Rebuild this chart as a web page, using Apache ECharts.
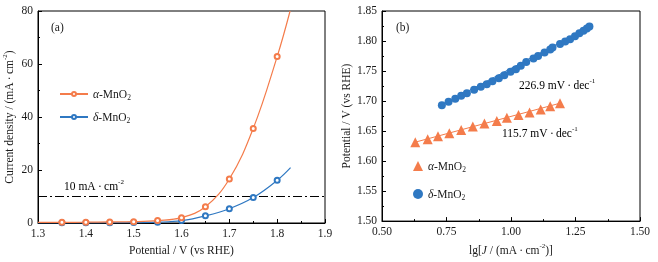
<!DOCTYPE html>
<html><head><meta charset="utf-8">
<script src="https://cdn.jsdelivr.net/npm/echarts@6/dist/echarts.min.js"></script>
<style>html,body{margin:0;padding:0;background:#fff}#c{width:658px;height:262px}</style>
</head><body><div id="c"></div>
<script>
// ---- Panel (a): polarization curves ----
const alphaV = [1.30,1.35,1.40,1.45,1.50,1.55,1.60,1.65,1.70,1.75,1.80,1.827];
const alphaJ = [0.2,0.25,0.3,0.4,0.5,0.9,2.0,6.1,16.6,35.7,62.8,80];
const deltaV = [1.30,1.35,1.40,1.45,1.50,1.55,1.60,1.65,1.70,1.75,1.80,1.828];
const deltaJ = [0.0,0.05,0.05,0.1,0.15,0.3,0.9,2.7,5.4,9.6,16.1,20.9];
const refV = [1.3,1.9];
const refJ = [10,10];
// ---- Panel (b): Tafel plots ----
const alphaLgJ = [0.629,0.677,0.717,0.761,0.807,0.852,0.897,0.945,0.984,1.029,1.072,1.115,1.152,1.190];
const alphaE   = [1.6315,1.6365,1.6414,1.6464,1.6519,1.6574,1.6624,1.6668,1.6723,1.6767,1.6811,1.6860,1.6915,1.6965];
const deltaLgJ = [0.732,0.758,0.784,0.807,0.829,0.857,0.883,0.906,0.928,0.953,0.974,0.998,1.019,1.038,1.059,1.087,1.105,1.130,1.152,1.161,1.190,1.210,1.229,1.248,1.265,1.281,1.294,1.304];
const deltaE   = [1.693,1.699,1.704,1.709,1.713,1.719,1.724,1.728,1.733,1.738,1.743,1.749,1.753,1.759,1.765,1.771,1.775,1.781,1.786,1.789,1.795,1.799,1.803,1.808,1.813,1.817,1.821,1.824];
const alphaFitX = [0.629,1.190];
const alphaFitY = [1.6315,1.6964];
const deltaFitX = [0.732,1.304];
const deltaFitY = [1.6935,1.8233];
const xTicksA = {min:1.3,max:1.9,interval:0.1};
const yTicksA = {min:0,max:80,interval:20};
const xTicksB = {min:0.5,max:1.5,interval:0.25};
const yTicksB = {min:1.5,max:1.85,interval:0.05};

const ORANGE = '#F47C4B';
const BLUE = '#2F78C2';
const FONT = '"Liberation Serif","Times New Roman",serif';
const TXT = '#1a1a1a';
const FS = 11.5;

const rich = {
  m:{fontFamily:FONT,fontSize:FS,color:TXT,lineHeight:14,verticalAlign:'bottom'},
  i:{fontFamily:FONT,fontSize:FS,color:TXT,lineHeight:14,verticalAlign:'bottom',fontStyle:'italic'},
  p:{fontFamily:FONT,fontSize:7,color:TXT,lineHeight:9,verticalAlign:'top'},
  s:{fontFamily:FONT,fontSize:7.5,color:TXT,lineHeight:8,verticalAlign:'bottom',padding:[0,0,-1,0]}
};
function colorRich(c){
  const r = {};
  for (const k in rich) r[k] = Object.assign({}, rich[k], {color:c});
  return r;
}
const pts = (xs, ys) => xs.map((x,i)=>[x,ys[i]]);
const lineData = (xs, ys) => xs.map((x,i)=>{
  const it = {value:[x,ys[i]]};
  if (i===0 || i===xs.length-1) it.symbol='none';
  return it;
});

function axisCommon(t, dec){
  return {
    type:'value', min:t.min, max:t.max, interval:t.interval,
    axisLine:{show:true,onZero:false,lineStyle:{color:'#000',width:1}},
    axisTick:{show:true,inside:true,length:4,lineStyle:{color:'#000'}},
    minorTick:{show:true,splitNumber:2,length:2,lineStyle:{color:'#000'}},
    splitLine:{show:false},
    axisLabel:{fontFamily:FONT,fontSize:FS,color:TXT,margin:5,
      formatter:v=>Number(v).toFixed(dec)}
  };
}
const legendFmt = {
  'a-line':'{i|α}{m|-MnO}{s|2}', 'd-line':'{i|δ}{m|-MnO}{s|2}',
  'a-taf':'{i|α}{m|-MnO}{s|2}', 'd-taf':'{i|δ}{m|-MnO}{s|2}'
};

const chart = echarts.init(document.getElementById('c'), null, {renderer:'canvas'});
chart.setOption({
  animation:false,
  backgroundColor:'#fff',
  grid:[
    {left:38,top:11,width:287,height:212,show:true,borderColor:'#000',borderWidth:1},
    {left:382,top:11,width:258,height:212,show:true,borderColor:'#000',borderWidth:1}
  ],
  xAxis:[
    Object.assign(axisCommon(xTicksA,1),{gridIndex:0,name:'Potential / V (vs RHE)',nameLocation:'middle',nameGap:18,
      nameTextStyle:{fontFamily:FONT,fontSize:FS,color:TXT}}),
    Object.assign(axisCommon(xTicksB,2),{gridIndex:1,name:'{m|lg[}{i|J}{m| / (mA\u2009·\u2009cm}{p|-2}{m|)]}',nameLocation:'middle',nameGap:18,
      nameTextStyle:{rich:rich}})
  ],
  yAxis:[
    Object.assign(axisCommon(yTicksA,0),{gridIndex:0,name:'{m|Current density / (mA\u2009·\u2009cm}{p|-2}{m|)}',nameLocation:'middle',nameGap:22,
      nameTextStyle:{rich:rich}}),
    Object.assign(axisCommon(yTicksB,2),{gridIndex:1,name:'Potential / V (vs RHE)',nameLocation:'middle',nameGap:29,
      nameTextStyle:{fontFamily:FONT,fontSize:FS,color:TXT}})
  ],
  legend:[
    {data:['a-line','d-line'],orient:'vertical',left:54,top:84,itemWidth:28,itemHeight:5,itemGap:10,
     formatter:n=>legendFmt[n],textStyle:{rich:rich},selectedMode:false},
    {data:['a-taf','d-taf'],orient:'vertical',left:408,top:156,itemWidth:10,itemHeight:10,itemGap:15,
     formatter:n=>legendFmt[n],textStyle:{rich:rich},selectedMode:false}
  ],
  series:[
    {name:'ref',type:'line',xAxisIndex:0,yAxisIndex:0,data:pts(refV,refJ),symbol:'none',
     lineStyle:{color:'#000',width:1.2,type:[9,3,2,3]},z:1},
    {name:'d-line',type:'line',xAxisIndex:0,yAxisIndex:0,data:lineData(deltaV,deltaJ),smooth:0.4,
     symbol:'emptyCircle',symbolSize:5,color:BLUE,lineStyle:{width:1.2,color:BLUE},itemStyle:{color:BLUE,borderWidth:1},z:2},
    {name:'a-line',type:'line',xAxisIndex:0,yAxisIndex:0,data:lineData(alphaV,alphaJ),smooth:0.4,
     symbol:'emptyCircle',symbolSize:5,color:ORANGE,lineStyle:{width:1.2,color:ORANGE},itemStyle:{color:ORANGE,borderWidth:1},z:3},
    {name:'afit',type:'line',xAxisIndex:1,yAxisIndex:1,data:pts(alphaFitX,alphaFitY),symbol:'none',
     lineStyle:{color:ORANGE,width:1},z:1},
    {name:'dfit',type:'line',xAxisIndex:1,yAxisIndex:1,data:pts(deltaFitX,deltaFitY),symbol:'none',
     lineStyle:{color:BLUE,width:1},z:1},
    {name:'a-taf',type:'scatter',xAxisIndex:1,yAxisIndex:1,data:pts(alphaLgJ,alphaE),symbol:'triangle',symbolSize:10,
     itemStyle:{color:ORANGE,opacity:1},z:3},
    {name:'d-taf',type:'scatter',xAxisIndex:1,yAxisIndex:1,data:pts(deltaLgJ,deltaE),symbol:'circle',symbolSize:8,
     itemStyle:{color:BLUE,opacity:1},z:3}
  ],
  graphic:[
    {type:'text',left:51,top:22,style:{text:'(a)',font:FS+'px '+FONT,fill:TXT}},
    {type:'text',left:396,top:22,style:{text:'(b)',font:FS+'px '+FONT,fill:TXT}},
    {type:'text',left:64,top:179,style:{text:'{m|10 mA\u2009·\u2009cm}{p|-2}',rich:rich}},
    {type:'text',left:519,top:78,style:{text:'{m|226.9 mV\u2009·\u2009dec}{p|-1}',rich:colorRich(BLUE)}},
    {type:'text',left:502,top:126,style:{text:'{m|115.7 mV\u2009·\u2009dec}{p|-1}',rich:colorRich(ORANGE)}}
  ]
});
</script></body></html>
